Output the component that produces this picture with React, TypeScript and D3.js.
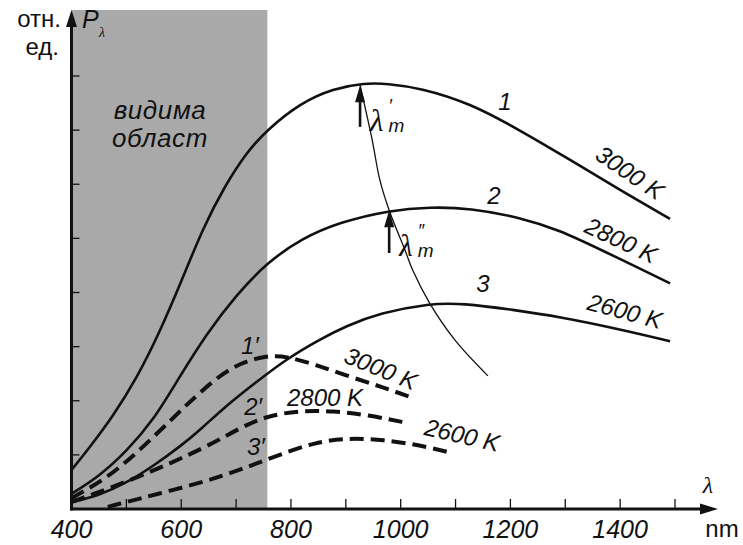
import React from 'react';
import * as d3 from 'd3';

// wavelength (nm) and relative units
const curve3000 = [[400, 0.72], [434, 1.15], [476, 1.72], [519, 2.42], [560, 3.25], [600, 4.2], [640, 5.2], [680, 5.98], [720, 6.6], [756, 7.0], [817, 7.5], [877, 7.77], [935, 7.87], [975, 7.86], [1035, 7.78], [1126, 7.5], [1217, 7.0], [1309, 6.45], [1400, 5.89], [1491, 5.36]];
const curve2800 = [[400, 0.28], [450, 0.6], [500, 1.06], [550, 1.65], [592, 2.36], [647, 3.25], [700, 3.95], [756, 4.55], [820, 5.0], [889, 5.3], [980, 5.52], [1054, 5.58], [1126, 5.56], [1217, 5.39], [1290, 5.15], [1363, 4.8], [1491, 4.17]];
const curve2600 = [[400, 0.12], [450, 0.25], [500, 0.48], [550, 0.8], [600, 1.17], [634, 1.46], [690, 1.98], [744, 2.4], [789, 2.75], [850, 3.12], [900, 3.38], [962, 3.62], [1053, 3.8], [1113, 3.8], [1205, 3.68], [1290, 3.55], [1400, 3.32], [1491, 3.1]];

const dashed3000 = [[400, 0.2], [465, 0.57], [525, 1.09], [585, 1.68], [634, 2.16], [694, 2.66], [756, 2.84], [793, 2.82], [847, 2.66], [908, 2.44], [968, 2.25], [1022, 2.05]];
const dashed2800 = [[400, 0.13], [525, 0.59], [647, 1.15], [707, 1.5], [756, 1.72], [817, 1.82], [877, 1.81], [939, 1.74], [1012, 1.59]];
const dashed2600 = [[466, 0.04], [585, 0.35], [676, 0.6], [762, 0.94], [847, 1.25], [908, 1.31], [968, 1.28], [1035, 1.18], [1095, 1.03]];

// line of the maxima
const maxLine = [[926, 7.83], [948, 6.82], [962, 6.08], [979, 5.52], [1008, 4.78], [1022, 4.41], [1053, 3.8], [1099, 3.12], [1159, 2.46]];

const xTicks = [500, 600, 700, 800, 900, 1000, 1100, 1200, 1300, 1400, 1500];
const xLabels = [400, 600, 800, 1000, 1200, 1400];
const yTicks = [1, 2, 3, 4, 5, 6, 7, 8];
const visibleEdge = 757;
const temps = ['3000 K', '2800 K', '2600 K'];

export default class App extends React.Component {
	constructor(props) {
		super(props);
		this.svgRef = React.createRef();
	}
	componentDidMount() {
		var svg = d3.select(this.svgRef.current);
		svg.selectAll('*').remove();

		var top = 10, axisEnd = 718;

		var x = d3.scaleLinear().domain([400, 1500]).range([71.5, 675]);
		var y = d3.scaleLinear().domain([0, 8]).range([509, 76]);

		var sans = '"Liberation Sans", Arial, sans-serif';
		var serif = '"Liberation Serif", "Times New Roman", serif';

		// visible region
		svg.append('rect')
			.attr('x', x(400)).attr('y', top)
			.attr('width', x(visibleEdge) - x(400)).attr('height', y(0) - top)
			.attr('fill', '#a9a9a9');

		var line = d3.line()
			.x(d => x(d[0]))
			.y(d => y(d[1]))
			.curve(d3.curveBasis);

		// solid curves
		[curve3000, curve2800, curve2600].forEach(function(c) {
			svg.append('path').attr('d', line(c))
				.attr('fill', 'none').attr('stroke', '#111').attr('stroke-width', 2.6);
		});
		// dashed curves
		[dashed3000, dashed2800, dashed2600].forEach(function(c) {
			svg.append('path').attr('d', line(c))
				.attr('fill', 'none').attr('stroke', '#111').attr('stroke-width', 4)
				.attr('stroke-dasharray', '14 7');
		});
		svg.append('path').attr('d', line.curve(d3.curveCatmullRom.alpha(0.5))(maxLine))
			.attr('fill', 'none').attr('stroke', '#111').attr('stroke-width', 1.3);

		// axes
		svg.append('line').attr('x1', x(400)).attr('x2', x(400))
			.attr('y1', y(0) + 1.5).attr('y2', top + 14)
			.attr('stroke', '#111').attr('stroke-width', 3);
		svg.append('path')
			.attr('d', `M${x(400)},${top} L${x(400) - 5.5},${top + 17} L${x(400) + 5.5},${top + 17} Z`)
			.attr('fill', '#111');
		svg.append('line').attr('x1', x(400) - 1.5).attr('x2', axisEnd - 14)
			.attr('y1', y(0)).attr('y2', y(0))
			.attr('stroke', '#111').attr('stroke-width', 3);
		svg.append('path')
			.attr('d', `M${axisEnd},${y(0)} L${axisEnd - 18},${y(0) - 5.5} L${axisEnd - 18},${y(0) + 5.5} Z`)
			.attr('fill', '#111');

		svg.append('g').selectAll('line').data(xTicks).enter().append('line')
			.attr('x1', d => x(d)).attr('x2', d => x(d))
			.attr('y1', y(0)).attr('y2', y(0) - 10)
			.attr('stroke', '#111').attr('stroke-width', 1.3);
		svg.append('g').selectAll('line').data(yTicks).enter().append('line')
			.attr('x1', x(400)).attr('x2', x(400) + 8)
			.attr('y1', d => y(d)).attr('y2', d => y(d))
			.attr('stroke', '#111').attr('stroke-width', 1.3);

		svg.append('g').selectAll('text').data(xLabels).enter().append('text')
			.text(d => d)
			.attr('x', d => x(d)).attr('y', 538)
			.attr('text-anchor', 'middle')
			.attr('font-family', sans).attr('font-style', 'italic').attr('font-size', 25)
			.attr('fill', '#111');

		svg.append('text').text('nm').attr('x', 722).attr('y', 537)
			.attr('text-anchor', 'middle')
			.attr('font-family', sans).attr('font-size', 24).attr('fill', '#111');
		svg.append('text').text('λ').attr('x', 708).attr('y', 493)
			.attr('text-anchor', 'middle')
			.attr('font-family', serif).attr('font-style', 'italic').attr('font-size', 24).attr('fill', '#111');

		// y axis title
		svg.append('text').text('отн.').attr('x', 61).attr('y', 27)
			.attr('text-anchor', 'end')
			.attr('font-family', sans).attr('font-size', 24).attr('fill', '#111');
		svg.append('text').text('ед.').attr('x', 59).attr('y', 55)
			.attr('text-anchor', 'end')
			.attr('font-family', sans).attr('font-size', 24).attr('fill', '#111');
		svg.append('text').text('P').attr('x', 82).attr('y', 28)
			.attr('font-family', sans).attr('font-style', 'italic').attr('font-size', 25).attr('fill', '#111');
		svg.append('text').text('λ').attr('x', 99).attr('y', 37)
			.attr('font-family', serif).attr('font-style', 'italic').attr('font-size', 14).attr('fill', '#111');

		// visible region caption
		svg.append('text').text('видима').attr('x', 160).attr('y', 119)
			.attr('text-anchor', 'middle').attr('letter-spacing', 0.6)
			.attr('font-family', sans).attr('font-style', 'italic').attr('font-size', 26).attr('fill', '#111');
		svg.append('text').text('област').attr('x', 160).attr('y', 147)
			.attr('text-anchor', 'middle').attr('letter-spacing', 0.6)
			.attr('font-family', sans).attr('font-style', 'italic').attr('font-size', 26).attr('fill', '#111');

		// curve numbers
		var label = function(t, nm, v, angle) {
			svg.append('text').text(t)
				.attr('transform', `translate(${x(nm)},${y(v)}) rotate(${angle})`)
				.attr('text-anchor', 'middle').attr('dy', '0.36em')
				.attr('font-family', sans).attr('font-style', 'italic').attr('font-size', 24)
				.attr('fill', '#111');
		};
		label('1', 1190, 7.54, 0);
		label('2', 1170, 5.8, 0);
		label('3', 1150, 4.16, 0);
		label(temps[0], 1418, 6.22, 34);
		label(temps[1], 1402, 4.97, 25);
		label(temps[2], 1409, 3.66, 15);
		label('1′', 725, 3.03, 0);
		label('2′', 731, 1.9, 0);
		label('3′', 736, 1.15, 0);
		label(temps[0], 964, 2.6, 22);
		label(temps[1], 862, 2.07, 0);
		label(temps[2], 1112, 1.37, 13);

		// maxima arrows
		var arrow = function(nm, v0, v1, primes) {
			var ax = x(nm), y0 = y(v0), y1 = y(v1);
			svg.append('line').attr('x1', ax).attr('x2', ax).attr('y1', y0).attr('y2', y1 + 12)
				.attr('stroke', '#111').attr('stroke-width', 2.6);
			svg.append('path')
				.attr('d', `M${ax},${y1} L${ax - 5},${y1 + 17} L${ax + 5},${y1 + 17} Z`)
				.attr('fill', '#111');
			svg.append('text').text('λ').attr('x', ax + 10).attr('y', y1 + 46)
				.attr('font-family', serif).attr('font-style', 'italic').attr('font-size', 31).attr('fill', '#111');
			svg.append('text').text(primes).attr('x', ax + 28.5).attr('y', y1 + 27)
				.attr('font-family', sans).attr('font-style', 'italic').attr('font-size', 18).attr('fill', '#111');
			svg.append('text').text('m').attr('x', ax + 28.5).attr('y', y1 + 47)
				.attr('font-family', sans).attr('font-style', 'italic').attr('font-size', 19).attr('fill', '#111');
		};
		arrow(926, 7.06, 7.83, '′');
		arrow(979, 4.73, 5.52, '″');
	}
	render() {
		return (
			<svg ref={this.svgRef} width={743} height={545}
				style={{ position: 'absolute', left: 0, top: 0, background: '#fff' }} />
		);
	}
}
